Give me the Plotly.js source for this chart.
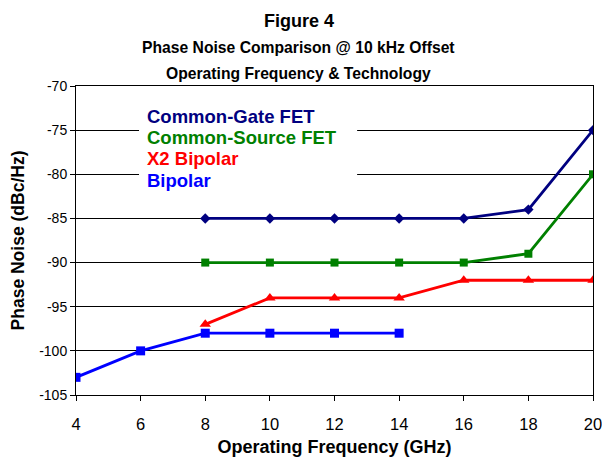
<!DOCTYPE html>
<html>
<head>
<meta charset="utf-8">
<script src="https://cdn.plot.ly/plotly-3.0.1.min.js"></script>
<style>html,body{margin:0;padding:0;background:#fff;}#chart{width:602px;height:458px;}</style>
</head>
<body>
<div id="chart"></div>
<script>
const freqCG = [8, 10, 12, 14, 16, 18, 20];
const commonGateFET = [-85, -85, -85, -85, -85, -84, -75];
const freqCS = [8, 10, 12, 14, 16, 18, 20];
const commonSourceFET = [-90, -90, -90, -90, -90, -89, -80];
const freqX2 = [8, 10, 12, 14, 16, 18, 20];
const x2Bipolar = [-97, -94, -94, -94, -92, -92, -92];
const freqBip = [4, 6, 8, 10, 12, 14];
const bipolar = [-103, -100, -98, -98, -98, -98];
const seriesNames = ["Common-Gate FET", "Common-Source FET", "X2 Bipolar", "Bipolar"];
const colors = ["#000080", "#008000", "#FF0000", "#0000FF"];
const xTicks = [4, 6, 8, 10, 12, 14, 16, 18, 20];
const yTicks = [-105, -100, -95, -90, -85, -80, -75, -70];

const font = "Liberation Sans, Arial, sans-serif";
const traces = [
  {x: freqCG, y: commonGateFET, name: seriesNames[0], mode: "lines+markers",
   line: {color: colors[0], width: 2.8}, marker: {symbol: "diamond", size: 8, color: colors[0]}},
  {x: freqCS, y: commonSourceFET, name: seriesNames[1], mode: "lines+markers",
   line: {color: colors[1], width: 2.8}, marker: {symbol: "square", size: 8, color: colors[1]}},
  {x: freqX2, y: x2Bipolar, name: seriesNames[2], mode: "lines+markers",
   line: {color: colors[2], width: 2.8}, marker: {symbol: "triangle-up", size: 10, color: colors[2]}},
  {x: freqBip, y: bipolar, name: seriesNames[3], mode: "lines+markers",
   line: {color: colors[3], width: 2.8}, marker: {symbol: "square", size: 9, color: colors[3]}}
];

// legend rows placed in data space (text-only legend as in the reference)
const legendY = [-73.4, -75.8, -78.2, -80.65];
const legendAnn = seriesNames.map((n, i) => ({
  text: "<b>" + n + "</b>", xref: "x", yref: "y", x: 6.12, y: legendY[i],
  xanchor: "left", yanchor: "middle", showarrow: false,
  font: {size: 18.5, family: font, color: colors[i]}
}));

const layout = {
  width: 602, height: 458,
  margin: {l: 76, r: 9, t: 86, b: 63},
  paper_bgcolor: "#fff", plot_bgcolor: "#fff",
  showlegend: false,
  font: {family: font, color: "#000", size: 14},
  xaxis: {
    range: [4, 20], tickvals: xTicks, ticktext: xTicks.map(String),
    showgrid: false, zeroline: false,
    showline: true, mirror: true, linecolor: "#000", linewidth: 1,
    ticks: "outside", ticklen: 5, tickcolor: "#000", ticklabelstandoff: 9,
    ticklabeloverflow: "allow",
    tickfont: {size: 16.5, family: font},
    title: {text: "<b>Operating Frequency (GHz)</b>", font: {size: 18, family: font}, standoff: 8}
  },
  yaxis: {
    range: [-105, -70], tickvals: yTicks, ticktext: yTicks.map(String),
    showgrid: true, gridcolor: "#000", gridwidth: 1, zeroline: false,
    showline: true, mirror: true, linecolor: "#000", linewidth: 1,
    ticks: "outside", ticklen: 5, tickcolor: "#000",
    tickfont: {size: 14, family: font},
    title: {text: "<b>Phase Noise (dBc/Hz)</b>", font: {size: 17.5, family: font}, standoff: 10}
  },
  shapes: [
    {type: "rect", xref: "x", yref: "y", x0: 5.95, x1: 12.7, y0: -71.95, y1: -82.3,
     fillcolor: "#fff", line: {width: 0}, layer: "above"}
  ],
  annotations: [
    {text: "<b>Figure 4</b>", xref: "paper", yref: "paper", x: 0.4313, y: 1, xanchor: "center", yanchor: "bottom",
     showarrow: false, font: {size: 18, family: font}, yshift: 53},
    {text: "<b>Phase Noise Comparison @ 10 kHz Offset</b>", xref: "paper", yref: "paper", x: 0.4313, y: 1,
     xanchor: "center", yanchor: "bottom", showarrow: false, font: {size: 15.7, family: font}, yshift: 28},
    {text: "<b>Operating Frequency & Technology</b>", xref: "paper", yref: "paper", x: 0.4313, y: 1,
     xanchor: "center", yanchor: "bottom", showarrow: false, font: {size: 15.7, family: font}, yshift: 2}
  ].concat(legendAnn)
};
Plotly.newPlot("chart", traces, layout, {displayModeBar: false, staticPlot: true});
</script>
</body>
</html>
